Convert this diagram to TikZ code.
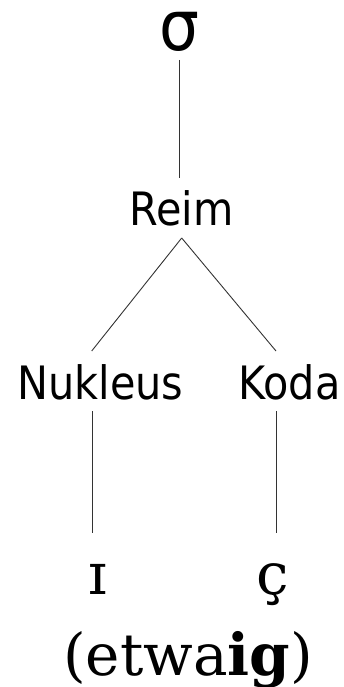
\documentclass[tikz,border=0pt]{standalone}
\usepackage{fontspec}
\setmainfont{DejaVu Serif}
\newfontfamily\labfont[FakeStretch=0.9]{DejaVu Sans}
\usetikzlibrary{calc}
\tikzset{
  lab/.style={anchor=base, inner sep=0pt, font=\labfont\fontsize{46}{50}\selectfont},
  sig/.style={anchor=base, inner sep=0pt, font=\labfont\fontsize{70}{76}\selectfont},
  ipa/.style={anchor=base, inner sep=0pt, font=\fontsize{58}{64}\selectfont},
  edge/.style={line width=0.9pt, draw=black!80}
}
\begin{document}
\begin{tikzpicture}[x=1pt,y=-1pt]
\useasboundingbox (0,0) rectangle (344,687);
\node[sig] (sigma) at (179,51) {σ};
\node[lab] (reim) at (181.5,225) {Reim};
\node[lab] (nuk) at (100.5,399) {Nukleus};
\node[lab] (koda) at (289.5,399) {Koda};
\node[ipa] (i) at (98,594) {ɪ};
\node[ipa] (c) at (273,594) {ç};
\node[ipa] (word) at (188,675) {(etwa\textbf{ig})};
\draw[edge] ($(sigma.base)+(0,9)$) -- ($(reim.base)+(-2.5,-47)$);
\draw[edge] ($(reim.base)+(0.2,13)$) -- ($(nuk.base)+(-8.8,-48)$);
\draw[edge] ($(reim.base)+(0.2,13)$) -- ($(koda.base)+(-13.5,-48)$);
\draw[edge] ($(nuk.base)+(-8.5,12)$) -- ($(i.base)+(-6,-61)$);
\draw[edge] ($(koda.base)+(-13.5,12)$) -- ($(c.base)+(3,-61)$);
\end{tikzpicture}
\end{document}
